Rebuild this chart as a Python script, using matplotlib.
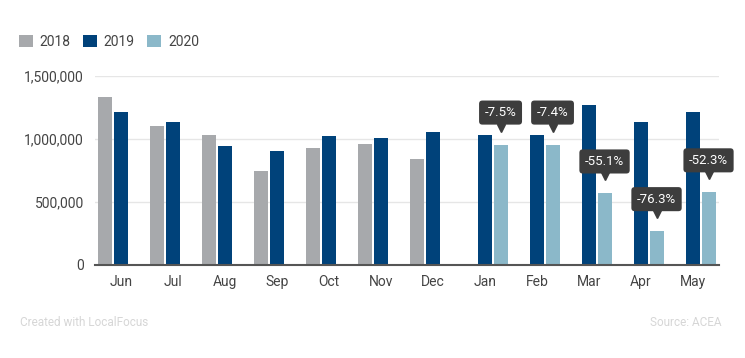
import numpy as np
import matplotlib.pyplot as plt
import matplotlib.transforms as mtransforms
from matplotlib.patches import Patch
from matplotlib.ticker import FuncFormatter

plt.rcParams['font.family'] = ['Roboto', 'DejaVu Sans']

months = ['Jun', 'Jul', 'Aug', 'Sep', 'Oct', 'Nov', 'Dec',
          'Jan', 'Feb', 'Mar', 'Apr', 'May']
sales_2018 = [1331000, 1106000, 1034000, 746000, 926000, 960000, 844000,
              np.nan, np.nan, np.nan, np.nan, np.nan]
sales_2019 = [1217000, 1133000, 942000, 902000, 1024000, 1008000, 1058000,
              1029000, 1029000, 1266000, 1136000, 1210000]
sales_2020 = [np.nan] * 7 + [955000, 955000, 567000, 268000, 576000]
change_labels = [None] * 7 + ['-7.5%', '-7.4%', '-55.1%', '-76.3%', '-52.3%']

years = ['2018', '2019', '2020']
colors = ['#a7a9ac', '#00427a', '#8bb8c9']
yticks = [0, 500000, 1000000, 1500000]

fig = plt.figure(figsize=(7.45, 3.58), dpi=100)
ax = fig.add_axes([0.1275, 0.26, 0.8375, 0.528])

x = np.arange(len(months))
width = 0.27
offsets = [-0.3, 0.0, 0.3]
for series, off, c in zip([sales_2018, sales_2019, sales_2020], offsets, colors):
    vals = np.array(series, dtype=float)
    ok = ~np.isnan(vals)
    ax.bar(x[ok] + off, vals[ok], width, color=c, zorder=2)

# percentage callouts over the 2020 bars
for i, lab in enumerate(change_labels):
    if lab is None:
        continue
    v = sales_2020[i]
    xi = x[i] + offsets[2]
    ax.annotate(lab, xy=(xi, v), xytext=(0, 32), textcoords='offset pixels',
                ha='center', va='center', color='white', fontsize=9.5,
                bbox=dict(boxstyle='round,pad=0.42,rounding_size=0.25',
                          fc='#3d3d3d', ec='none'), zorder=5)
    tr = mtransforms.offset_copy(ax.transData, fig=fig, x=0, y=17, units='dots')
    ax.plot([xi], [v], marker='v', color='#3d3d3d', markersize=6,
            transform=tr, zorder=5, clip_on=False)

ax.set_xlim(-0.5, 11.5)
ax.set_ylim(0, 1500000)
ax.set_xticks(x)
ax.set_xticklabels(months)
ax.set_yticks(yticks)
ax.yaxis.set_major_formatter(FuncFormatter(lambda v, p: f'{int(v):,}'))
ax.tick_params(axis='both', length=0, labelsize=10, colors='#444444')
ax.tick_params(axis='y', pad=8)
ax.tick_params(axis='x', pad=7)
ax.grid(axis='y', color='#e6e6e6', linewidth=1, zorder=0)
for s in ['top', 'right', 'left']:
    ax.spines[s].set_visible(False)
ax.spines['bottom'].set_color('#555555')
ax.spines['bottom'].set_linewidth(1.5)
ax.spines['bottom'].set_zorder(3)

handles = [Patch(facecolor=c, edgecolor='none') for c in colors]
fig.legend(handles, years, loc='center left', bbox_to_anchor=(0.025, 1 - 42 / 358),
           ncol=3, frameon=False, handlelength=1.0, handleheight=1.0,
           handletextpad=0.5, columnspacing=0.9, borderpad=0, borderaxespad=0,
           fontsize=10, labelcolor='#444444')

fig.text(20 / 745, 1 - 322 / 358, 'Created with LocalFocus', fontsize=8.5,
         color='#d6d6d6', ha='left', va='center')
fig.text(722 / 745, 1 - 322 / 358, 'Source: ACEA', fontsize=8.5,
         color='#d6d6d6', ha='right', va='center')

plt.savefig('out.png', dpi=100)
